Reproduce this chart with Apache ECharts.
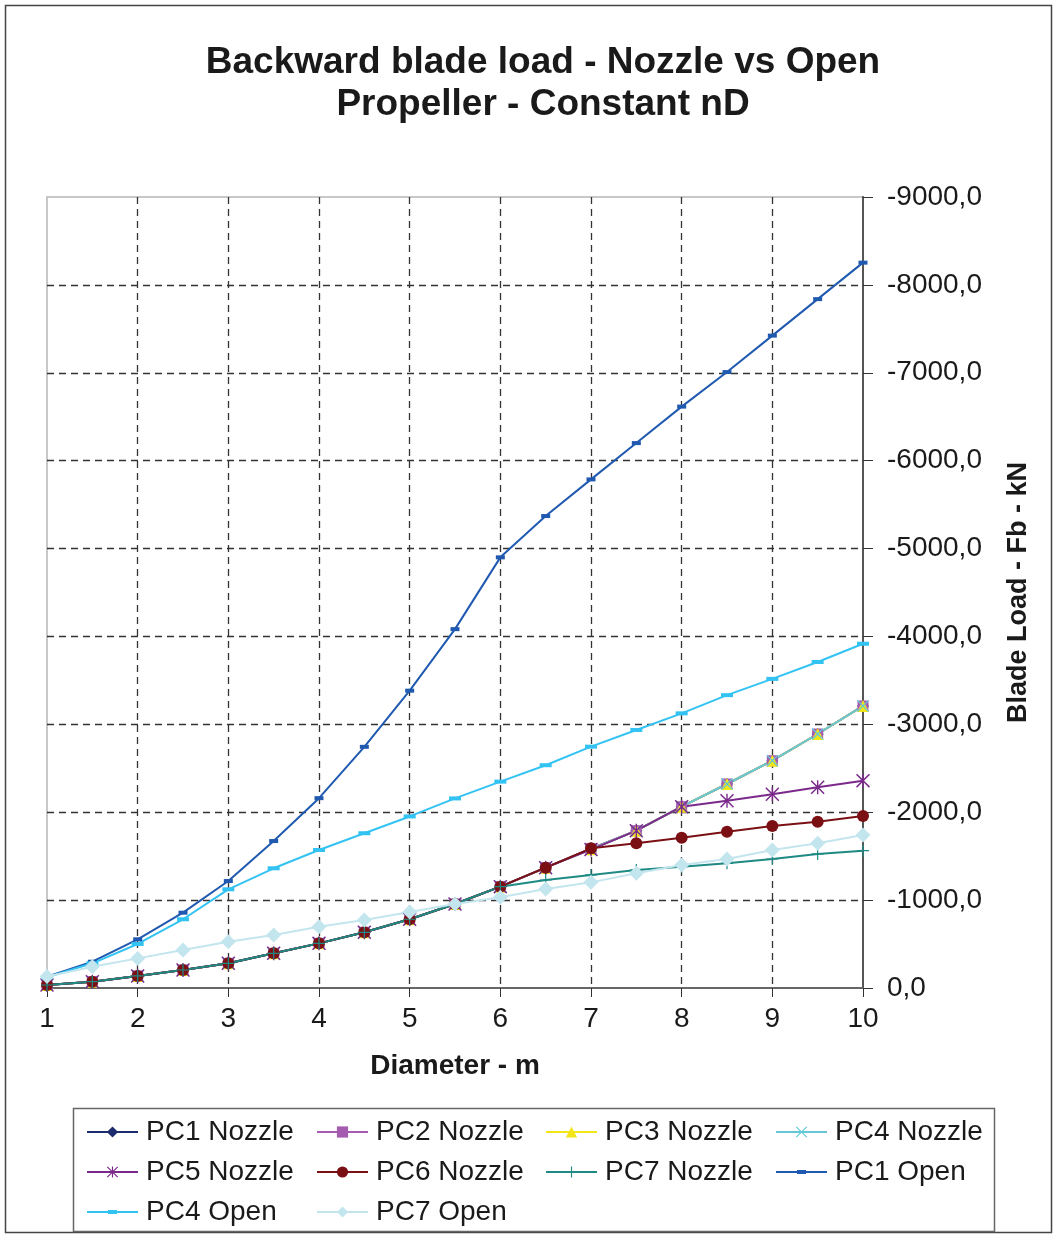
<!DOCTYPE html>
<html>
<head>
<meta charset="utf-8">
<script src="https://cdn.jsdelivr.net/npm/echarts@6/dist/echarts.min.js"></script>
<style>
html,body{margin:0;padding:0;background:#fff;}
#chart{width:1056px;height:1235px;}
</style>
</head>
<body>
<div id="chart"></div>
<script>
// ---- data ----
const diameters = [1, 1.5, 2, 2.5, 3, 3.5, 4, 4.5, 5, 5.5, 6, 6.5, 7, 7.5, 8, 8.5, 9, 9.5, 10];
const pc1Nozzle = [-34, -72, -137, -205, -281, -395, -508, -634, -782, -956, -1153, -1369, -1585, -1790, -2063, -2321, -2586, -2890, -3209];
const pc2Nozzle = [-34, -72, -137, -205, -281, -395, -508, -634, -782, -956, -1153, -1369, -1585, -1790, -2063, -2321, -2586, -2890, -3209];
const pc3Nozzle = [-34, -72, -137, -205, -281, -395, -508, -634, -782, -956, -1153, -1369, -1580, -1790, -2063, -2321, -2586, -2890, -3209];
const pc4Nozzle = [-34, -72, -137, -205, -281, -395, -508, -634, -782, -956, -1153, -1369, -1580, -1790, -2063, -2321, -2586, -2890, -3209];
const pc5Nozzle = [-34, -72, -137, -205, -281, -395, -508, -634, -782, -956, -1153, -1369, -1575, -1790, -2063, -2131, -2204, -2284, -2359];
const pc6Nozzle = [-34, -72, -137, -205, -281, -395, -508, -634, -782, -956, -1153, -1369, -1589, -1646, -1710, -1779, -1843, -1892, -1957];
const pc7Nozzle = [-34, -72, -137, -205, -281, -395, -508, -634, -782, -956, -1153, -1229, -1286, -1343, -1380, -1419, -1468, -1525, -1562];
const pc1Open = [-129, -299, -554, -857, -1217, -1672, -2160, -2744, -3383, -4083, -4900, -5370, -5787, -6200, -6615, -7008, -7423, -7838, -8253];
const pc4Open = [-122, -281, -501, -782, -1123, -1362, -1570, -1761, -1952, -2157, -2348, -2535, -2746, -2936, -3125, -3332, -3517, -3709, -3917];
const pc7Open = [-130, -242, -337, -432, -527, -603, -698, -774, -865, -956, -1032, -1126, -1202, -1305, -1399, -1468, -1570, -1646, -1741];

const seriesNames = ['PC1 Nozzle','PC2 Nozzle','PC3 Nozzle','PC4 Nozzle','PC5 Nozzle','PC6 Nozzle','PC7 Nozzle','PC1 Open','PC4 Open','PC7 Open'];
const seriesValues = [pc1Nozzle,pc2Nozzle,pc3Nozzle,pc4Nozzle,pc5Nozzle,pc6Nozzle,pc7Nozzle,pc1Open,pc4Open,pc7Open];
const titleText = 'Backward blade load - Nozzle vs Open\nPropeller - Constant nD';
const xAxisName = 'Diameter - m';
const yAxisName = 'Blade Load - Fb - kN';

// ---- styles ----
const FONT = '"Liberation Sans", Arial, Helvetica, sans-serif';
const TXT = '#1a1a1a';
const xPath = 'path://M1.5,0 L10,8.5 L18.5,0 L20,1.5 L11.5,10 L20,18.5 L18.5,20 L10,11.5 L1.5,20 L0,18.5 L8.5,10 L0,1.5 Z';
const starPath = 'path://M1.5,0 L10,8.5 L18.5,0 L20,1.5 L11.5,10 L20,18.5 L18.5,20 L10,11.5 L1.5,20 L0,18.5 L8.5,10 L0,1.5 Z M9,0 L11,0 L11,20 L9,20 Z';
const plusPath = 'path://M9,0 L11,0 L11,9 L20,9 L20,11 L11,11 L11,20 L9,20 L9,11 L0,11 L0,9 L9,9 Z';
// legend icon for the "Open" dash-marker series: line with a short thick dash in the middle
const dashLegendIcon = 'path://M0,1 L21,1 L21,0 L30,0 L30,1 L51,1 L51,3 L30,3 L30,4 L21,4 L21,3 L0,3 Z';
const styles = [
  {color:'#1c2a6e', symbol:'diamond', size:12},
  {color:'#a45bb0', symbol:'rect', size:11},
  {color:'#f2e51a', symbol:'triangle', size:12},
  {color:'#66c8d6', symbol:xPath, size:12},
  {color:'#7b2a8c', symbol:starPath, size:14},
  {color:'#7a1014', symbol:'circle', size:12},
  {color:'#1f8a84', symbol:plusPath, size:12},
  {color:'#2059b0', symbol:'rect', size:[9,4]},
  {color:'#33c3f3', symbol:'rect', size:[12,4]},
  {color:'#c3e5ee', symbol:'diamond', size:15}
];

const series = seriesNames.map((name, i) => ({
  name: name,
  type: 'line',
  data: diameters.map((d, j) => [d, seriesValues[i][j]]),
  symbol: styles[i].symbol,
  symbolSize: styles[i].size,
  showAllSymbol: true,
  lineStyle: {color: styles[i].color, width: 2},
  itemStyle: {color: styles[i].color},
  emphasis: {disabled: true},
  z: 3
}));

const legendCols = [
  {left: 86, names: ['PC1 Nozzle','PC5 Nozzle','PC4 Open']},
  {left: 316, names: ['PC2 Nozzle','PC6 Nozzle','PC7 Open']},
  {left: 545, names: ['PC3 Nozzle','PC7 Nozzle']},
  {left: 775, names: ['PC4 Nozzle','PC1 Open']}
];
const legends = legendCols.map(c => ({
  orient: 'vertical',
  left: c.left,
  top: 1117,
  padding: 0,
  itemWidth: 51,
  itemHeight: 14,
  itemGap: 10,
  selectedMode: false,
  symbolKeepAspect: true,
  data: c.names.map(n => (n === 'PC1 Open' || n === 'PC4 Open') ? {name: n, icon: dashLegendIcon} : n),
  textStyle: {fontFamily: FONT, fontSize: 28, color: TXT, lineHeight: 30, padding: [0,0,0,3]}
}));

const chart = echarts.init(document.getElementById('chart'), null, {renderer: 'canvas'});
chart.setOption({
  animation: false,
  backgroundColor: '#ffffff',
  title: {
    text: titleText,
    left: 538,
    top: 37,
    textAlign: 'center',
    textStyle: {fontFamily: FONT, fontSize: 37, fontWeight: 'bold', color: TXT, lineHeight: 42}
  },
  legend: legends,
  grid: {left: 47, right: 193, top: 197, bottom: 247, show: true, borderColor: '#c8c8c8', borderWidth: 2, backgroundColor: '#ffffff'},
  xAxis: {
    type: 'value',
    min: 1, max: 10, interval: 1,
    name: xAxisName,
    nameLocation: 'middle',
    nameGap: 64,
    nameTextStyle: {fontFamily: FONT, fontSize: 28, fontWeight: 'bold', color: TXT},
    axisLine: {onZero: false, lineStyle: {color: '#666', width: 2}},
    axisTick: {show: true, length: 9, lineStyle: {color: '#333', width: 1}},
    axisLabel: {fontFamily: FONT, fontSize: 28, color: TXT, margin: 17},
    splitLine: {show: true, showMinLine: false, showMaxLine: false, lineStyle: {color: '#333', type: [7,5], width: 1.3}}
  },
  yAxis: {
    type: 'value',
    position: 'right',
    inverse: true,
    min: -9000, max: 0, interval: 1000,
    name: yAxisName,
    nameLocation: 'middle',
    nameRotate: 90,
    nameGap: 142,
    nameTextStyle: {fontFamily: FONT, fontSize: 27, fontWeight: 'bold', color: TXT},
    axisLine: {show: true, onZero: false, lineStyle: {color: '#555', width: 2}},
    axisTick: {show: true, length: 10, lineStyle: {color: '#333', width: 1}},
    axisLabel: {fontFamily: FONT, fontSize: 28, color: TXT, margin: 24,
      formatter: v => v.toFixed(1).replace('.', ',')},
    splitLine: {show: true, showMinLine: false, showMaxLine: false, lineStyle: {color: '#333', type: [7,5], width: 1.3}}
  },
  graphic: [
    {type: 'rect', z: -10, silent: true, shape: {x: 5.5, y: 5.5, width: 1046, height: 1227}, style: {fill: 'none', stroke: '#444', lineWidth: 1.5}},
    {type: 'rect', z: -10, silent: true, shape: {x: 73.5, y: 1108.5, width: 921, height: 123}, style: {fill: 'none', stroke: '#666', lineWidth: 1.5}}
  ],
  series: series
});
</script>
</body>
</html>
